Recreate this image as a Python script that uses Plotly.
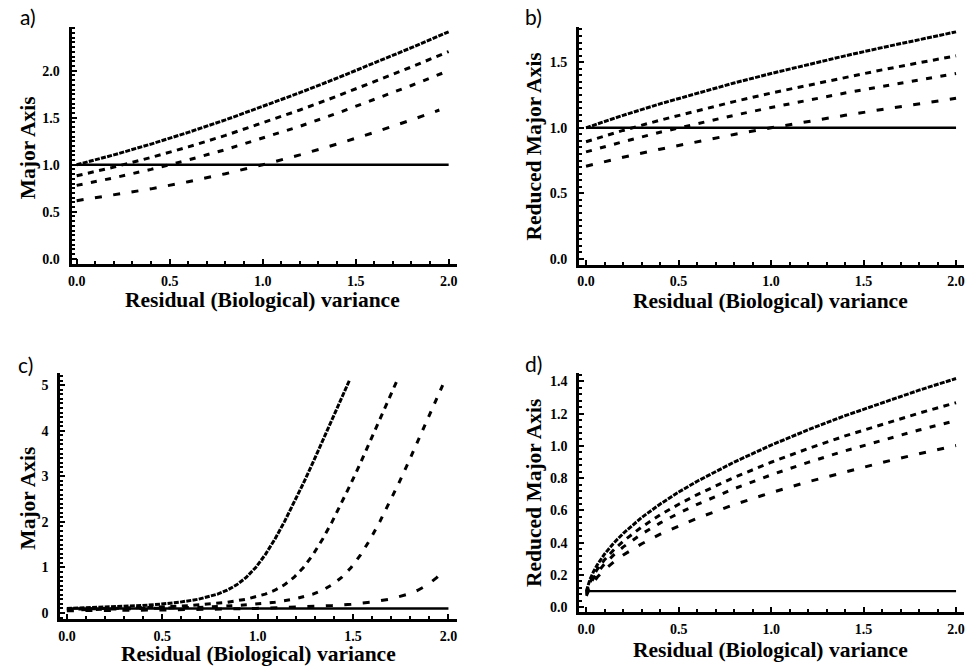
import plotly.graph_objects as go

# ---------------- data ----------------
# Panel a: Major Axis
a_x = [0.0, 0.2, 0.4, 0.6, 0.8, 1.0, 1.2, 1.4, 1.6, 1.8, 2.0]
a_y0 = [1.0, 1.105, 1.220, 1.344, 1.477, 1.618, 1.766, 1.921, 2.081, 2.245, 2.414]
a_y1 = [0.883, 0.975, 1.078, 1.190, 1.312, 1.443, 1.582, 1.729, 1.882, 2.040, 2.204]
a_y2 = [0.781, 0.861, 0.951, 1.051, 1.161, 1.281, 1.409, 1.547, 1.691, 1.843, 2.0]
a_x3 = [0.0, 0.2, 0.4, 0.6, 0.8, 1.0, 1.2, 1.4, 1.6, 1.8, 1.95]
a_y3 = [0.618, 0.677, 0.744, 0.820, 0.905, 1.0, 1.105, 1.220, 1.344, 1.477, 1.582]
a_true = 1.0

# Panel b: Reduced Major Axis
b_x = [0.0, 0.2, 0.4, 0.6, 0.8, 1.0, 1.2, 1.4, 1.6, 1.8, 2.0]
b_y0 = [1.0, 1.095, 1.183, 1.265, 1.342, 1.414, 1.483, 1.549, 1.612, 1.673, 1.732]
b_y1 = [0.894, 0.980, 1.058, 1.131, 1.200, 1.265, 1.326, 1.385, 1.442, 1.496, 1.549]
b_y2 = [0.816, 0.894, 0.966, 1.033, 1.095, 1.155, 1.211, 1.265, 1.316, 1.366, 1.414]
b_y3 = [0.707, 0.775, 0.837, 0.894, 0.949, 1.0, 1.049, 1.095, 1.140, 1.183, 1.225]
b_true = 1.0

# Panel c: Major Axis (true slope 0.1)
c_x0 = [0.0, 0.19, 0.39, 0.49, 0.59, 0.69, 0.74, 0.79, 0.84, 0.89, 0.94, 0.99,
        1.04, 1.09, 1.14, 1.19, 1.24, 1.29, 1.34, 1.39, 1.44, 1.48]
c_y0 = [0.100, 0.123, 0.162, 0.193, 0.236, 0.303, 0.351, 0.414, 0.500, 0.618, 0.781, 1.0,
        1.281, 1.618, 2.0, 2.414, 2.851, 3.303, 3.766, 4.236, 4.712, 5.097]
c_x1 = [0.0, 0.24, 0.44, 0.64, 0.74, 0.84, 0.94, 0.99, 1.04, 1.09, 1.14, 1.19, 1.24,
        1.29, 1.34, 1.39, 1.44, 1.49, 1.54, 1.59, 1.64, 1.69, 1.73]
c_y1 = [0.080, 0.099, 0.123, 0.162, 0.193, 0.236, 0.303, 0.351, 0.414, 0.500, 0.618, 0.781, 1.0,
        1.281, 1.618, 2.0, 2.414, 2.851, 3.303, 3.766, 4.236, 4.712, 5.097]
c_x2 = [0.0, 0.49, 0.69, 0.89, 0.99, 1.09, 1.19, 1.24, 1.29, 1.34, 1.39, 1.44, 1.49,
        1.54, 1.59, 1.64, 1.69, 1.74, 1.79, 1.84, 1.89, 1.94, 1.97]
c_y2 = [0.067, 0.099, 0.123, 0.162, 0.193, 0.236, 0.303, 0.351, 0.414, 0.500, 0.618, 0.781, 1.0,
        1.281, 1.618, 2.0, 2.414, 2.851, 3.303, 3.766, 4.236, 4.712, 5.0]
c_x3 = [0.0, 0.49, 0.99, 1.19, 1.39, 1.49, 1.59, 1.69, 1.74, 1.79, 1.84, 1.89, 1.94, 1.97]
c_y3 = [0.050, 0.066, 0.099, 0.123, 0.162, 0.193, 0.236, 0.303, 0.351, 0.414, 0.500, 0.618, 0.781, 0.905]
c_true = 0.1

# Panel d: Reduced Major Axis (true slope 0.1)
d_x = [0.0, 0.005, 0.01, 0.02, 0.04, 0.06, 0.1, 0.15, 0.2, 0.3, 0.4, 0.5, 0.6, 0.8,
       1.0, 1.2, 1.4, 1.6, 1.8, 2.0]
d_y0 = [0.1, 0.1225, 0.1414, 0.1732, 0.2236, 0.2646, 0.3317, 0.4, 0.4583, 0.5568, 0.6403,
        0.7141, 0.7810, 0.9, 1.005, 1.1, 1.1874, 1.2689, 1.3454, 1.4177]
d_y1 = [0.0894, 0.1096, 0.1265, 0.1549, 0.2000, 0.2367, 0.2967, 0.3578, 0.4099, 0.4980, 0.5727,
        0.6387, 0.6985, 0.8050, 0.8989, 0.9838, 1.0620, 1.1349, 1.2033, 1.2680]
d_y2 = [0.0817, 0.1000, 0.1155, 0.1414, 0.1826, 0.2161, 0.2708, 0.3266, 0.3742, 0.4546, 0.5228,
        0.5831, 0.6377, 0.7349, 0.8206, 0.8982, 0.9695, 1.0361, 1.0985, 1.1576]
d_y3 = [0.0707, 0.0866, 0.1000, 0.1225, 0.1581, 0.1871, 0.2345, 0.2828, 0.3241, 0.3937, 0.4528,
        0.5050, 0.5523, 0.6364, 0.7106, 0.7778, 0.8396, 0.8972, 0.9513, 1.0025]
d_true = 0.1

x_ticks = [0.0, 0.5, 1.0, 1.5, 2.0]
a_yticks = [0.0, 0.5, 1.0, 1.5, 2.0]
b_yticks = [0.0, 0.5, 1.0, 1.5]
c_yticks = [0, 1, 2, 3, 4, 5]
d_yticks = [0.0, 0.2, 0.4, 0.6, 0.8, 1.0, 1.2, 1.4]

x_title = "Residual (Biological) variance"
ylab_ma = "Major Axis"
ylab_rma = "Reduced Major Axis"
panel_labels = ["a)", "b)", "c)", "d)"]

# ---------------- styling ----------------
W, H = 965, 671
DASHES = ["5px,1.3px", "6px,5.5px", "6px,8.5px", "7px,11.5px"]
LW = 3.0

fig = go.Figure()


def add_panel(idx, xs, ys, xtrue_max, ytrue):
    ax = "" if idx == 1 else str(idx)
    for k, (xv, yv) in enumerate(zip(xs, ys)):
        fig.add_trace(go.Scatter(x=xv, y=yv, mode="lines",
                                 line=dict(color="black", width=LW, dash=DASHES[k]),
                                 xaxis="x" + ax, yaxis="y" + ax, showlegend=False,
                                 hoverinfo="skip"))
    fig.add_trace(go.Scatter(x=[0.0, xtrue_max], y=[ytrue, ytrue], mode="lines",
                             line=dict(color="black", width=2.4),
                             xaxis="x" + ax, yaxis="y" + ax, showlegend=False,
                             hoverinfo="skip"))


add_panel(1, [a_x, a_x, a_x, a_x3], [a_y0, a_y1, a_y2, a_y3], 2.0, a_true)
add_panel(2, [b_x, b_x, b_x, b_x], [b_y0, b_y1, b_y2, b_y3], 2.0, b_true)
add_panel(3, [c_x0, c_x1, c_x2, c_x3], [c_y0, c_y1, c_y2, c_y3], 2.0, c_true)
add_panel(4, [d_x, d_x, d_x, d_x], [d_y0, d_y1, d_y2, d_y3], 2.0, d_true)

tickfont = dict(family="Liberation Serif", size=14, color="black", weight="bold")


def xaxis(domain, anchor, rng):
    return dict(domain=domain, anchor=anchor, range=rng, tickvals=x_ticks,
                ticktext=["%.1f" % v for v in x_ticks],
                showline=True, linewidth=3, linecolor="black", mirror=False,
                ticks="inside", ticklen=5, tickwidth=2, tickcolor="black",
                showgrid=False, zeroline=False, tickfont=tickfont,
                ticklabelstandoff=2,
                minor=dict(ticks="inside", ticklen=3, tickwidth=1.5, tickcolor="black",
                           tick0=0, dtick=0.1, showgrid=False))


def yaxis(domain, anchor, rng, tv, fmt, mdt):
    return dict(domain=domain, anchor=anchor, range=rng, tickvals=tv,
                ticktext=[fmt % v for v in tv],
                showline=True, linewidth=3, linecolor="black", mirror=False,
                ticks="inside", ticklen=5, tickwidth=2, tickcolor="black",
                showgrid=False, zeroline=False, tickfont=tickfont,
                ticklabelstandoff=6,
                minor=dict(ticks="inside", ticklen=3, tickwidth=1.5, tickcolor="black",
                           tick0=0, dtick=mdt, showgrid=False))


def px(xp):
    return xp / W


def py(yp):
    return 1 - yp / H


fig.update_layout(
    width=W, height=H, margin=dict(l=0, r=0, t=0, b=0),
    paper_bgcolor="white", plot_bgcolor="white",
    xaxis=xaxis([px(68), px(455)], "y", [-0.027, 2.043]),
    yaxis=yaxis([py(265), py(27)], "x", [-0.053, 2.466], a_yticks, "%.1f", 0.05),
    xaxis2=xaxis([px(578), 1.0], "y2", [-0.038, 2.043]),
    yaxis2=yaxis([py(265.7), py(27)], "x2", [-0.043, 1.77], b_yticks, "%.1f", 0.05),
    xaxis3=xaxis([px(56.7), px(455)], "y3", [-0.034, 2.043]),
    yaxis3=yaxis([py(621.7), py(375)], "x3", [-0.13, 5.26], c_yticks, "%d", 0.1),
    xaxis4=xaxis([px(578.3), 1.0], "y4", [-0.038, 2.043]),
    yaxis4=yaxis([py(615), py(375)], "x4", [-0.031, 1.45], d_yticks, "%.1f", 0.04),
)

title_font = dict(family="Liberation Serif", size=21.5, color="black", weight="bold")
label_font = dict(family="Lato", size=21, color="black")

ann = []
for (cx, cy) in [(260, 301), (770, 302), (256, 657), (770, 653)]:
    ann.append(dict(x=px(cx), y=py(cy), xref="paper", yref="paper", text=x_title,
                    showarrow=False, font=title_font, xanchor="center", yanchor="middle"))
for (cx, cy, t) in [(24, 148, ylab_ma), (533, 147, ylab_rma), (24, 500, ylab_ma), (533, 495, ylab_rma)]:
    ann.append(dict(x=px(cx), y=py(cy), xref="paper", yref="paper", text=t, textangle=-90,
                    showarrow=False, font=title_font, xanchor="center", yanchor="middle"))
for (cx, cy), t in zip([(24, 17), (532, 17), (22, 366), (532, 365)], panel_labels):
    ann.append(dict(x=px(cx), y=py(cy), xref="paper", yref="paper", text=t,
                    showarrow=False, font=label_font, xanchor="center", yanchor="middle"))
fig.update_layout(annotations=ann)

fig.write_html("out.html")
